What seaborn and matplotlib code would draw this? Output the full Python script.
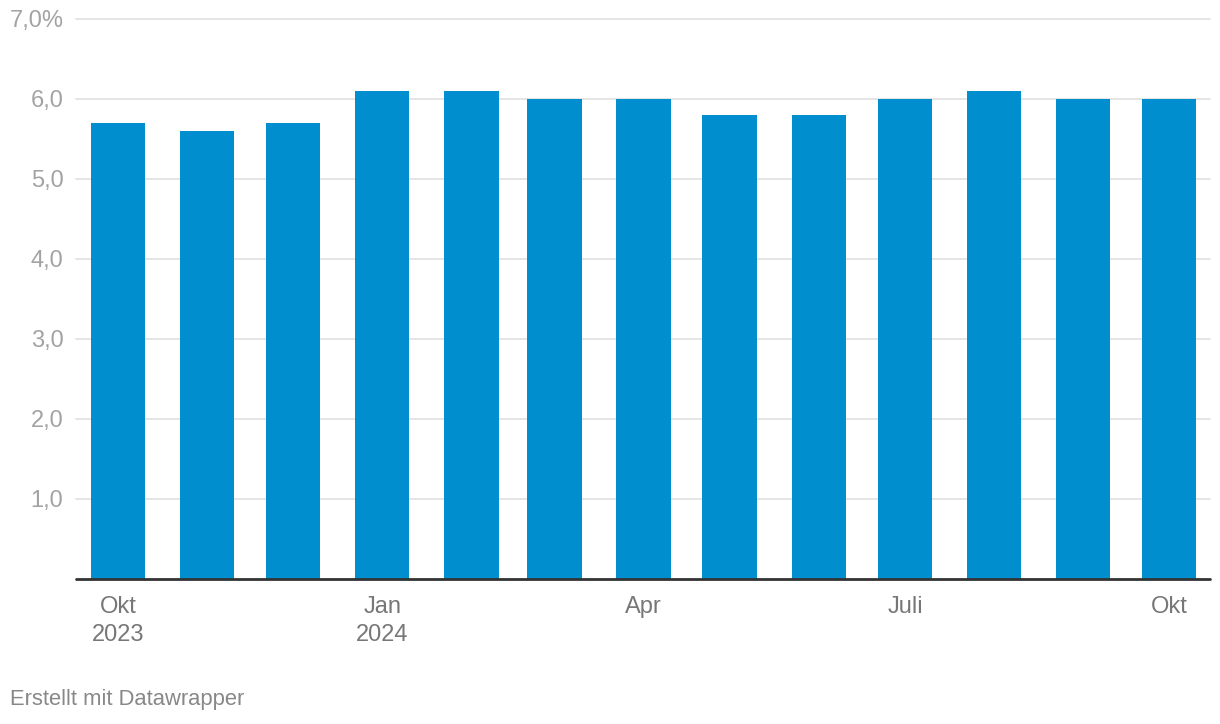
import matplotlib
matplotlib.use("Agg")
import matplotlib.pyplot as plt
import seaborn as sns
import pandas as pd

months = ["2023-10-01", "2023-11-01", "2023-12-01", "2024-01-01", "2024-02-01",
          "2024-03-01", "2024-04-01", "2024-05-01", "2024-06-01", "2024-07-01",
          "2024-08-01", "2024-09-01", "2024-10-01"]
values = [5.7, 5.6, 5.7, 6.1, 6.1, 6.0, 6.0, 5.8, 5.8, 6.0, 6.1, 6.0, 6.0]
tick_months = ["2023-10-01", "2024-01-01", "2024-04-01", "2024-07-01", "2024-10-01"]
tick_labels = ["Okt\n2023", "Jan\n2024", "Apr", "Juli", "Okt"]
y_ticks = [1, 2, 3, 4, 5, 6, 7]
y_labels = ["1,0", "2,0", "3,0", "4,0", "5,0", "6,0", "7,0%"]

sns.set_theme(style="white")
plt.rcParams["font.family"] = ["Liberation Sans", "DejaVu Sans"]

start = pd.Timestamp(months[0])
days = [(pd.Timestamp(m) - start).days for m in months]
tick_days = [(pd.Timestamp(m) - start).days for m in tick_months]
df = pd.DataFrame({"day": days, "value": values})

fig = plt.figure(figsize=(12.2, 7.24), dpi=100)
ax = fig.add_axes([76 / 1220, (724 - 579) / 724, (1210 - 76) / 1220, (579 - 19) / 724])

sns.barplot(data=df, x="day", y="value", native_scale=True, width=0.655,
            color="#008ecf", saturation=1, ax=ax, zorder=3, errorbar=None,
            linewidth=0)

ax.set_xlim(-14.6, 380.2)
ax.set_ylim(0, 7)
for y in y_ticks:
    ax.axhline(y, color="#e3e3e3", lw=1.3, zorder=1, clip_on=False)
ax.axhline(0, color="#333333", lw=2, zorder=4, clip_on=False)

for s in ax.spines.values():
    s.set_visible(False)

ax.set_yticks(y_ticks)
ax.set_yticklabels(y_labels)
ax.set_xticks(tick_days)
ax.set_xticklabels(tick_labels, linespacing=1.35)
ax.tick_params(axis="y", length=0, pad=9, labelsize=17, labelcolor="#a3a3a3")
ax.tick_params(axis="x", length=0, pad=12, labelsize=17, labelcolor="#777777")
ax.set_xlabel("")
ax.set_ylabel("")
ax.grid(False)

fig.text(10 / 1220, 1 - 700 / 724, "Erstellt mit Datawrapper", fontsize=15.8,
         color="#888888", va="center", ha="left")

fig.savefig("out.png", dpi=100)
